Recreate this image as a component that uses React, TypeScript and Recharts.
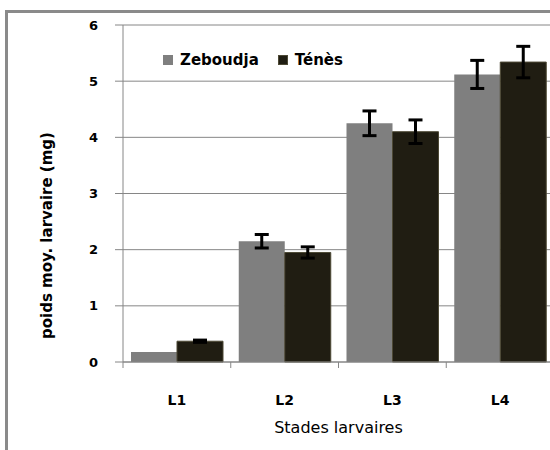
import React from 'react';
import { BarChart, Bar, XAxis, YAxis, CartesianGrid, ErrorBar, Legend, Label } from 'recharts';

// Larval weight by stage, two sites
const stages = ['L1', 'L2', 'L3', 'L4'];
const zeboudja = [0.18, 2.15, 4.25, 5.12];
const zeboudjaErr = [null, 0.12, 0.22, 0.25];
const tenes = [0.37, 1.95, 4.1, 5.34];
const tenesErr = [0.02, 0.1, 0.21, 0.28];
const yTicks = [0, 1, 2, 3, 4, 5, 6];

const GREY = '#7f7f7f';
const DARK = '#201d12';
const AXIS = '#868686';

const data = stages.map((stage, i) => ({
  stage,
  zeboudja: zeboudja[i],
  zeboudjaErr: zeboudjaErr[i],
  tenes: tenes[i],
  tenesErr: tenesErr[i],
}));

const legendItems = [
  { name: 'Zeboudja', color: GREY, border: GREY },
  { name: 'Ténès', color: DARK, border: '#4d4935' },
];

function LegendContent() {
  return (
    <div style={{ display: 'flex', alignItems: 'center', fontFamily: 'DejaVu Sans', fontWeight: 'bold', fontSize: 15 }}>
      {legendItems.map((item, i) => (
        <div key={item.name} style={{ display: 'flex', alignItems: 'center', marginRight: i === 0 ? 19 : 0 }}>
          <span
            style={{
              display: 'inline-block',
              width: 8,
              height: 8,
              background: item.color,
              border: `1px solid ${item.border}`,
              marginRight: 7,
            }}
          />
          <span>{item.name}</span>
        </div>
      ))}
    </div>
  );
}

// stage label at the band centre, tick marks on the band edges (Excel style)
function StageTick(props: any) {
  const { x, y, width, payload, index, visibleTicksCount } = props;
  const half = width / (2 * visibleTicksCount);
  const last = index === visibleTicksCount - 1;
  return (
    <g>
      <line x1={x - half} y1={y} x2={x - half} y2={y + 6} stroke={AXIS} />
      {last && <line x1={x + half} y1={y} x2={x + half} y2={y + 6} stroke={AXIS} />}
      <text x={x} y={y + 43} textAnchor="middle" fill="#000" fontSize={14} fontWeight="bold">
        {payload.value}
      </text>
    </g>
  );
}

export default function App() {
  return (
    <div
      style={{
        position: 'absolute',
        left: 0,
        top: 0,
        width: 550,
        height: 450,
        overflow: 'hidden',
        background: '#fff',
        fontFamily: 'DejaVu Sans',
      }}
    >
      <div
        style={{
          position: 'absolute',
          left: 5,
          top: 10,
          width: 600,
          height: 500,
          border: '3px solid #8a8a8a',
        }}
      />
      <div style={{ position: 'absolute', left: 0, top: 0 }}>
        <BarChart
          width={554}
          height={450}
          data={data}
          margin={{ top: 25, right: 0, left: 0, bottom: 0 }}
          barCategoryGap={8}
          barGap={0}
        >
          <CartesianGrid horizontal vertical={false} stroke={AXIS} strokeWidth={1} />
          <XAxis
            dataKey="stage"
            height={88}
            interval={0}
            tickSize={0}
            tickMargin={0}
            tickLine={false}
            axisLine={{ stroke: AXIS }}
            tick={<StageTick />}
          >
            <Label
              value="Stades larvaires"
              position="insideBottom"
              offset={17}
              style={{ fill: '#000', fontSize: 16 }}
            />
          </XAxis>
          <YAxis
            domain={[0, 6]}
            ticks={yTicks}
            width={123}
            tickSize={8}
            tickMargin={17}
            axisLine={{ stroke: AXIS }}
            tickLine={{ stroke: AXIS }}
            tick={{ fill: '#000', fontSize: 13, fontWeight: 'bold' }}
          >
            <Label
              value="poids moy. larvaire (mg)"
              angle={-90}
              position="insideLeft"
              offset={47}
              dy={42}
              style={{ textAnchor: 'middle', fill: '#000', fontSize: 15, fontWeight: 'bold' }}
            />
          </YAxis>
          <Legend
            layout="horizontal"
            verticalAlign="middle"
            align="center"
            content={<LegendContent />}
            wrapperStyle={{ left: 163, top: 51, width: 'auto' }}
          />
          <Bar dataKey="zeboudja" name="Zeboudja" fill={GREY} isAnimationActive={false}>
            <ErrorBar dataKey="zeboudjaErr" width={7} stroke="#000" strokeWidth={3} isAnimationActive={false} />
          </Bar>
          <Bar
            dataKey="tenes"
            name="Ténès"
            fill={DARK}
            stroke="#4d4935"
            strokeWidth={1}
            isAnimationActive={false}
          >
            <ErrorBar dataKey="tenesErr" width={7} stroke="#000" strokeWidth={3} isAnimationActive={false} />
          </Bar>
        </BarChart>
      </div>
    </div>
  );
}
